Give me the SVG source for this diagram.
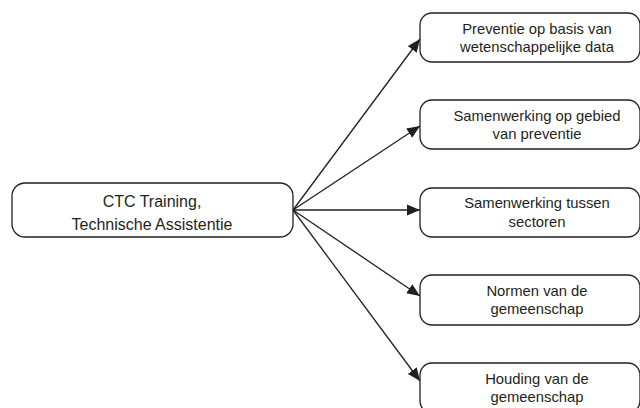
<svg xmlns="http://www.w3.org/2000/svg" width="640" height="408" viewBox="0 0 640 408">
  <style>
    .box { fill: #ffffff; stroke: #231f20; stroke-width: 1.3; }
    .t1 { font-family: "Liberation Sans", Arial, sans-serif; font-size: 16px; fill: #231f20; text-anchor: middle; }
    .t2 { font-family: "Liberation Sans", Arial, sans-serif; font-size: 14.8px; fill: #231f20; text-anchor: middle; }
    .edge { stroke: #231f20; stroke-width: 1.3; fill: none; marker-end: url(#arr); }
  </style>
  <defs>
    <marker id="arr" markerUnits="userSpaceOnUse" markerWidth="14" markerHeight="12" refX="13" refY="6" orient="auto">
      <path d="M0,0.5 L13,6 L0,11.5 Z" fill="#231f20"/>
    </marker>
  </defs>
  <rect width="640" height="408" fill="#ffffff"/>
  <g id="connectors">
    <line class="edge" x1="293" y1="210" x2="420" y2="39"/>
    <line class="edge" x1="293" y1="210" x2="420" y2="126"/>
    <line class="edge" x1="293" y1="210" x2="420" y2="210"/>
    <line class="edge" x1="293" y1="210" x2="420" y2="296"/>
    <line class="edge" x1="293" y1="210" x2="420" y2="381"/>
  </g>
  <g id="node-ctc">
    <rect class="box" x="12" y="183" width="281" height="54" rx="13"/>
    <text class="t1" x="152" y="207">CTC Training,</text>
    <text class="t1" x="152" y="230">Technische Assistentie</text>
  </g>
  <g id="node-preventie">
    <rect class="box" x="420" y="13" width="220" height="49" rx="12"/>
    <text class="t2" x="537" y="33.5">Preventie op basis van</text>
    <text class="t2" x="537" y="52">wetenschappelijke data</text>
  </g>
  <g id="node-samenwerking-preventie">
    <rect class="box" x="420" y="100" width="220" height="49" rx="12"/>
    <text class="t2" x="537" y="120.5">Samenwerking op gebied</text>
    <text class="t2" x="537" y="139">van preventie</text>
  </g>
  <g id="node-samenwerking-sectoren">
    <rect class="box" x="420" y="188" width="220" height="49" rx="12"/>
    <text class="t2" x="537" y="208.3">Samenwerking tussen</text>
    <text class="t2" x="537" y="226.7">sectoren</text>
  </g>
  <g id="node-normen">
    <rect class="box" x="420" y="275" width="220" height="50" rx="12"/>
    <text class="t2" x="537" y="295.5">Normen van de</text>
    <text class="t2" x="537" y="314">gemeenschap</text>
  </g>
  <g id="node-houding">
    <rect class="box" x="420" y="363" width="220" height="50" rx="12"/>
    <text class="t2" x="537" y="383.5">Houding van de</text>
    <text class="t2" x="537" y="402">gemeenschap</text>
  </g>
</svg>
